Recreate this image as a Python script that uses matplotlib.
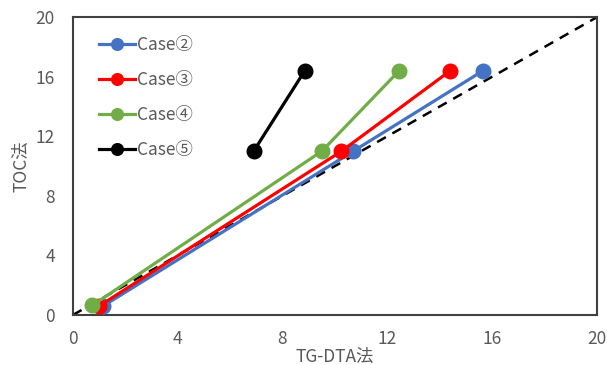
import matplotlib
matplotlib.use("Agg")
import matplotlib.pyplot as plt

plt.rcParams['font.family'] = ['Noto Sans CJK JP', 'DejaVu Sans']

labels = ['Case②', 'Case③', 'Case④', 'Case⑤']
colors = ['#4472C4', '#FF0000', '#70AD47', '#000000']
x_vals = [
    [1.15, 10.7, 15.65],
    [1.0, 10.25, 14.4],
    [0.75, 9.5, 12.45],
    [6.9, 8.85],
]
y_vals = [
    [0.6, 11.0, 16.4],
    [0.6, 11.0, 16.4],
    [0.65, 11.0, 16.4],
    [11.0, 16.4],
]
ref_line = [0, 20]
ticks = [0, 4, 8, 12, 16, 20]

fig = plt.figure(figsize=(6.07, 3.65), dpi=100)
ax = fig.add_axes([0.120, 0.137, 0.8635, 0.816])

for xs, ys, c, lab in zip(x_vals, y_vals, colors, labels):
    ax.plot(xs, ys, color=c, lw=2.3, marker='o', markersize=10.5, label=lab, zorder=3)

ax.plot(ref_line, ref_line, color='black', lw=1.8, ls=(0, (4, 3)), zorder=2)

ax.set_xlim(0, 20)
ax.set_ylim(0, 20)
ax.set_xticks(ticks)
ax.set_yticks(ticks)
ax.tick_params(length=0, labelsize=12.5, labelcolor='#595959')
ax.tick_params(axis='x', pad=11)
ax.tick_params(axis='y', pad=13)
for s in ax.spines.values():
    s.set_color('#404040')
    s.set_linewidth(1.5)

ax.set_xlabel('TG-DTA法', fontsize=12.5, color='#595959', labelpad=0)
ax.set_ylabel('TOC法', fontsize=12.5, color='#595959', labelpad=4)

leg = ax.legend(loc='upper left', bbox_to_anchor=(0.02, 0.99), frameon=False,
                fontsize=12.5, labelspacing=0.98, handlelength=2.1, handletextpad=0.1,
                markerscale=0.8)
for t in leg.get_texts():
    t.set_color('#595959')

fig.savefig('out.png', dpi=100)
